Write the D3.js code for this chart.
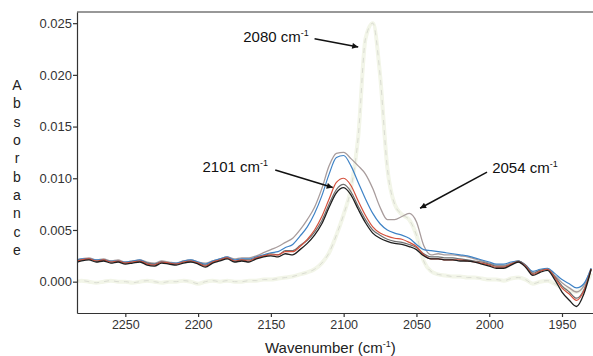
<!DOCTYPE html>
<head>
    <meta charset="utf-8">
    <title>IR spectra</title>
</head>
<script src="https://d3js.org/d3.v7.min.js"></script>
<style>
    html, body { margin: 0; padding: 0; background: white; }
    svg text { font-family: "Liberation Sans", Arial, sans-serif; }
</style>
<div id="graph"></div>
<script>
    // wavenumber grid, cm-1 (5 cm-1 steps, high -> low)
    var wavenumbers = [2285,2280,2275,2270,2265,2260,2255,2250,2245,2240,
        2235,2230,2225,2220,2215,2210,2205,2200,2195,2190,
        2185,2180,2175,2170,2165,2160,2155,2150,2145,2140,
        2135,2130,2125,2120,2115,2110,2105,2100,2095,2090,
        2085,2080,2075,2070,2065,2060,2055,2050,2045,2040,
        2035,2030,2025,2020,2015,2010,2005,2000,1995,1990,
        1985,1980,1975,1970,1965,1960,1955,1950,1945,1940,1935,1930];

    // faint spectrum with the big 2080 band
    var faintSpec = [0.0000,0.0001,0.0000,-0.0001,0.0000,0.0001,0.0000,0.0000,-0.0001,0.0000,
        0.0001,0.0000,-0.0001,0.0000,0.0000,0.0001,0.0000,-0.0002,0.0000,0.0001,
        0.0000,0.0001,0.0000,0.0000,0.0001,0.0001,0.0002,0.0002,0.0003,0.0004,
        0.0005,0.0007,0.0009,0.0012,0.0018,0.0028,0.0045,0.0065,0.0090,0.0140,
        0.0235,0.0250,0.0200,0.0110,0.0075,0.0065,0.0060,0.0045,0.0020,0.0010,
        0.0007,0.0006,0.0005,0.0005,0.0004,0.0004,0.0003,0.0002,0.0002,0.0001,
        0.0003,0.0004,0.0002,-0.0002,0.0000,0.0001,-0.0002,-0.0006,-0.0008,-0.0010,-0.0005,0.0008];

    // light grey, with the 2054 shoulder
    var greySpec = [0.0021,0.0022,0.0023,0.0021,0.0022,0.0020,0.0021,0.0019,0.0020,0.0021,
        0.0019,0.0018,0.0020,0.0019,0.0018,0.0020,0.0021,0.0019,0.0018,0.0020,
        0.0022,0.0024,0.0022,0.0023,0.0023,0.0025,0.0028,0.0031,0.0034,0.0038,
        0.0042,0.0050,0.0060,0.0072,0.0090,0.0112,0.0124,0.0125,0.0119,0.0112,
        0.0104,0.0090,0.0072,0.0060,0.0060,0.0063,0.0066,0.0058,0.0035,0.0026,
        0.0027,0.0026,0.0026,0.0025,0.0024,0.0022,0.0020,0.0018,0.0016,0.0016,
        0.0018,0.0020,0.0016,0.0009,0.0011,0.0012,0.0006,-0.0001,-0.0006,-0.0010,-0.0004,0.0013];

    var blueSpec = [0.0020,0.0022,0.0022,0.0021,0.0021,0.0020,0.0020,0.0019,0.0020,0.0021,
        0.0018,0.0017,0.0019,0.0018,0.0018,0.0020,0.0021,0.0019,0.0017,0.0020,
        0.0022,0.0024,0.0021,0.0022,0.0022,0.0024,0.0026,0.0028,0.0029,0.0033,
        0.0036,0.0044,0.0053,0.0066,0.0083,0.0104,0.0120,0.0122,0.0112,0.0096,
        0.0080,0.0066,0.0056,0.0050,0.0047,0.0045,0.0042,0.0036,0.0031,0.0030,
        0.0029,0.0028,0.0027,0.0026,0.0025,0.0023,0.0021,0.0019,0.0017,0.0017,
        0.0019,0.0020,0.0016,0.0010,0.0012,0.0013,0.0008,0.0002,-0.0002,-0.0006,-0.0002,0.0013];

    var darkGreySpec = [0.0020,0.0021,0.0022,0.0020,0.0021,0.0019,0.0020,0.0018,0.0019,0.0020,
        0.0018,0.0017,0.0019,0.0018,0.0017,0.0019,0.0020,0.0018,0.0016,0.0019,
        0.0021,0.0023,0.0020,0.0021,0.0021,0.0023,0.0025,0.0027,0.0026,0.0030,
        0.0030,0.0035,0.0040,0.0048,0.0059,0.0075,0.0089,0.0094,0.0087,0.0073,
        0.0060,0.0050,0.0045,0.0041,0.0039,0.0038,0.0036,0.0033,0.0027,0.0024,
        0.0024,0.0023,0.0023,0.0022,0.0021,0.0020,0.0019,0.0017,0.0015,0.0015,
        0.0017,0.0020,0.0016,0.0008,0.0011,0.0012,0.0005,-0.0004,-0.0010,-0.0016,-0.0008,0.0012];

    var redSpec = [0.0019,0.0021,0.0022,0.0020,0.0021,0.0019,0.0020,0.0018,0.0019,0.0020,
        0.0017,0.0016,0.0019,0.0018,0.0017,0.0019,0.0020,0.0018,0.0015,0.0019,
        0.0021,0.0023,0.0020,0.0021,0.0020,0.0023,0.0025,0.0026,0.0026,0.0029,
        0.0029,0.0034,0.0041,0.0050,0.0063,0.0080,0.0096,0.0100,0.0093,0.0078,
        0.0064,0.0053,0.0047,0.0044,0.0042,0.0041,0.0038,0.0034,0.0026,0.0022,
        0.0022,0.0021,0.0021,0.0021,0.0020,0.0019,0.0018,0.0016,0.0014,0.0014,
        0.0017,0.0019,0.0015,0.0007,0.0010,0.0012,0.0004,-0.0006,-0.0012,-0.0018,-0.0009,0.0012];

    var blackSpec = [0.0018,0.0020,0.0021,0.0019,0.0020,0.0018,0.0019,0.0017,0.0018,0.0019,
        0.0016,0.0015,0.0018,0.0017,0.0016,0.0018,0.0019,0.0017,0.0014,0.0018,
        0.0020,0.0022,0.0019,0.0020,0.0019,0.0022,0.0024,0.0025,0.0024,0.0027,
        0.0026,0.0031,0.0037,0.0045,0.0056,0.0072,0.0086,0.0091,0.0084,0.0070,
        0.0057,0.0047,0.0042,0.0039,0.0037,0.0036,0.0034,0.0031,0.0025,0.0022,
        0.0022,0.0021,0.0021,0.0020,0.0020,0.0019,0.0017,0.0015,0.0013,0.0013,
        0.0016,0.0019,0.0014,0.0006,0.0009,0.0011,0.0002,-0.0010,-0.0018,-0.0024,-0.0012,0.0012];

    var xTicks = [2250, 2200, 2150, 2100, 2050, 2000, 1950];
    var yTicks = [0.000, 0.005, 0.010, 0.015, 0.020, 0.025];

    // annotations: label at (lx, ly), arrow from (sx, sy) to tip (tx, ty), all in data units
    var annotations = [
        {label: "2080", lx: 2169, ly: 0.0232, sx: 2120, sy: 0.0235, tx: 2090, ty: 0.0227},
        {label: "2101", lx: 2197, ly: 0.0106, sx: 2147, sy: 0.0108, tx: 2107.5, ty: 0.0091},
        {label: "2054", lx: 1998, ly: 0.0105, sx: 2001.5, sy: 0.0106, tx: 2047.5, ty: 0.0071}
    ];

    var series = [
        {values: faintSpec, color: "#f2f5e8", width: 4},
        {values: faintSpec, color: "#dadcd2", width: 1, dash: "5,5"},
        {values: greySpec, color: "#a89c9c", width: 1.3},
        {values: blueSpec, color: "#3f83c6", width: 1.2},
        {values: darkGreySpec, color: "#6e6e6e", width: 1.2},
        {values: redSpec, color: "#d4503c", width: 1.2},
        {values: blackSpec, color: "#1e1e1e", width: 1.3}
    ];

    var margin = {top: 12, right: 0, bottom: 43, left: 77},
        width = 593 - margin.left - margin.right,
        height = 356 - margin.top - margin.bottom;

    var svg = d3.select("#graph")
        .append("svg")
            .attr("width", width + margin.left + margin.right)
            .attr("height", height + margin.top + margin.bottom)
        .append("g")
            .attr("transform", "translate(" + margin.left + "," + margin.top + ")");

    var x = d3.scaleLinear().domain([2283.2, 1928.7]).range([0, width]);
    var y = d3.scaleLinear().domain([-0.00303, 0.02608]).range([height, 0]);

    svg.append("clipPath").attr("id", "clip")
        .append("rect").attr("width", width).attr("height", height);

    var line = d3.line()
        .x(function(d, i) { return x(wavenumbers[i]); })
        .y(function(d) { return y(d); })
        .curve(d3.curveMonotoneX);

    var plot = svg.append("g").attr("clip-path", "url(#clip)");
    series.forEach(function(s) {
        plot.append("path")
            .datum(s.values)
            .attr("fill", "none")
            .attr("stroke", s.color)
            .attr("stroke-width", s.width)
            .attr("stroke-dasharray", s.dash || null)
            .attr("stroke-linejoin", "round")
            .attr("d", line);
    });

    // axes
    var yAxis = svg.append("g")
        .call(d3.axisLeft(y).tickValues(yTicks).tickFormat(d3.format(".3f"))
            .tickSize(4).tickSizeOuter(0).tickPadding(1));
    yAxis.selectAll("text").style("font-size", "13px").attr("fill", "#333");

    var xAxis = svg.append("g")
        .attr("transform", "translate(0," + height + ")")
        .call(d3.axisBottom(x).tickValues(xTicks).tickFormat(d3.format("d"))
            .tickSize(4).tickSizeOuter(0).tickPadding(3));
    xAxis.selectAll("text").style("font-size", "12.5px").attr("fill", "#333");

    svg.selectAll(".domain, .tick line").attr("stroke", "#333").attr("stroke-width", 1.2);

    // top frame line
    svg.append("line")
        .attr("x1", 0).attr("x2", width).attr("y1", 0).attr("y2", 0)
        .attr("stroke", "#333").attr("stroke-width", 1.2);

    // x title
    var xt = svg.append("text")
        .attr("x", 265 - margin.left)
        .attr("y", height + 40)
        .style("font-size", "15px")
        .attr("fill", "#222");
    xt.append("tspan").text("Wavenumber (cm");
    xt.append("tspan").text("-1").style("font-size", "9px").attr("dy", -6);
    xt.append("tspan").text(")").attr("dy", 6);

    // y title, one letter per line
    svg.append("g").selectAll("text")
        .data("Absorbance".split(""))
        .enter().append("text")
            .attr("x", 17 - margin.left)
            .attr("y", function(d, i) { return 90 - margin.top + i * 18.33; })
            .attr("text-anchor", "middle")
            .style("font-size", "14px")
            .attr("fill", "#222")
            .text(function(d) { return d; });

    // arrows
    svg.append("defs").append("marker")
        .attr("id", "arrow")
        .attr("viewBox", "0 0 10 10")
        .attr("refX", 10).attr("refY", 5)
        .attr("markerWidth", 7).attr("markerHeight", 6)
        .attr("markerUnits", "userSpaceOnUse")
        .attr("orient", "auto")
        .append("path").attr("d", "M0,0 L10,5 L0,10 z").attr("fill", "#111");

    annotations.forEach(function(a) {
        var t = svg.append("text")
            .attr("x", x(a.lx)).attr("y", y(a.ly))
            .style("font-size", "15px")
            .attr("fill", "#111");
        t.append("tspan").text(a.label + " cm");
        t.append("tspan").text("-1").style("font-size", "9px").attr("dy", -6);

        svg.append("line")
            .attr("x1", x(a.sx)).attr("y1", y(a.sy))
            .attr("x2", x(a.tx)).attr("y2", y(a.ty))
            .attr("stroke", "#111").attr("stroke-width", 1.5)
            .attr("marker-end", "url(#arrow)");
    });
</script>
